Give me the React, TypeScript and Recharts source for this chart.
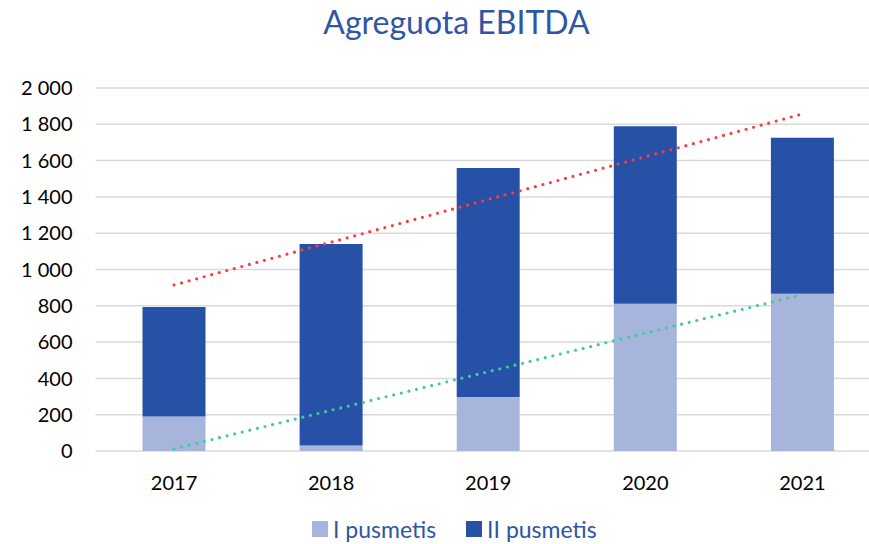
import React from 'react';
import { ComposedChart, Bar, Line, XAxis, YAxis, CartesianGrid } from 'recharts';

const title = 'Agreguota EBITDA';
const years = ['2017', '2018', '2019', '2020', '2021'];
const firstHalf = [190, 30, 297, 811, 867];
const secondHalf = [603, 1110, 1262, 978, 859];
const totalTrend = [915, null, null, null, 1857];
const firstTrend = [12, null, null, null, 862];
const yTicks = [0, 200, 400, 600, 800, 1000, 1200, 1400, 1600, 1800, 2000];
const seriesNames = ['I pusmetis', 'II pusmetis'];
const seriesColors = ['#A7B5DD', '#2651A6'];

const data = years.map((y, i) => ({
  year: y,
  first: firstHalf[i],
  second: secondHalf[i],
  tTotal: totalTrend[i],
  tFirst: firstTrend[i],
}));

const fmt = (v: number) => {
  const s = String(v);
  return s.length > 3 ? s.slice(0, s.length - 3) + ' ' + s.slice(-3) : s;
};

const FONT = 'Lato, "Open Sans", sans-serif';

export default function App() {
  return (
    <div style={{ position: 'absolute', left: 0, top: 0, width: 869, height: 544, overflow: 'hidden', background: '#fff', fontFamily: FONT }}>
      <div style={{ position: 'absolute', left: 0, width: 913, top: 2, textAlign: 'center', fontSize: 32, lineHeight: '40px', color: '#2F55A4', fontFamily: FONT }}>
        {title}
      </div>
      <ComposedChart width={881} height={544} data={data} margin={{ top: 88, right: 0, bottom: 0, left: 0 }} barSize={63}>
        <CartesianGrid vertical={false} stroke="#D9D9D9" strokeWidth={1.5} />
        <XAxis dataKey="year" axisLine={false} tickLine={false} tickSize={0} tickMargin={25} height={93}
          tick={{ fill: '#000', fontSize: 20, fontFamily: FONT }} />
        <YAxis domain={[0, 2000]} ticks={yTicks} interval={0} axisLine={false} tickLine={false} tickSize={0} tickMargin={23} width={95.5}
          tickFormatter={fmt} tick={{ fill: '#000', fontSize: 20, fontFamily: FONT }} />
        <Bar dataKey="first" stackId="a" fill={seriesColors[0]} isAnimationActive={false} />
        <Bar dataKey="second" stackId="a" fill={seriesColors[1]} isAnimationActive={false} />
        <Line dataKey="tTotal" connectNulls dot={false} stroke="#FF3B3B" strokeWidth={3.2} strokeLinecap="round" strokeDasharray="0 7.8" isAnimationActive={false} activeDot={false} />
        <Line dataKey="tFirst" connectNulls dot={false} stroke="#3ECC9A" strokeWidth={3.2} strokeLinecap="round" strokeDasharray="0 7.8" isAnimationActive={false} activeDot={false} />
      </ComposedChart>
      <div style={{ position: 'absolute', left: 312, top: 514, height: 30, display: 'flex', alignItems: 'center', fontSize: 23, lineHeight: '28px', color: '#2F55A4', fontFamily: FONT, whiteSpace: 'nowrap' }}>
        {seriesNames.map((n, i) => (
          <div key={n} style={{ display: 'flex', alignItems: 'center', marginRight: 30 }}>
            <span style={{ display: 'inline-block', width: 16, height: 16, background: seriesColors[i], marginRight: 5 }} />
            <span>{n}</span>
          </div>
        ))}
      </div>
    </div>
  );
}
